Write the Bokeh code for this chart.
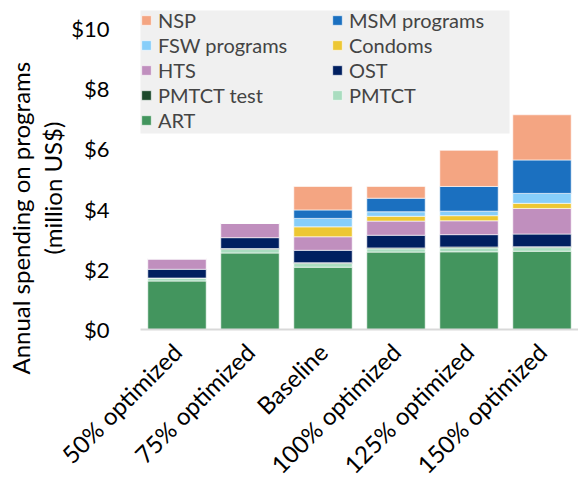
from bokeh.plotting import figure
from bokeh.models import ColumnDataSource, Legend, LegendItem, CustomJSTickFormatter, Title, BoxAnnotation
from bokeh.embed import file_html
from bokeh.resources import INLINE
import math

scenarios = ["50% optimized", "75% optimized", "Baseline", "100% optimized", "125% optimized", "150% optimized"]
programs = ["ART", "PMTCT", "PMTCT test", "OST", "HTS", "Condoms", "FSW programs", "MSM programs", "NSP"]
colors = ["#43955E", "#A9DDBF", "#1D4A2C", "#001F60", "#C08FBE", "#EDC732", "#87CEFA", "#1B70C0", "#F4A582"]

art = [1.61, 2.54, 2.07, 2.57, 2.58, 2.60]
pmtct = [0.10, 0.12, 0.12, 0.11, 0.13, 0.12]
pmtct_test = [0.0, 0.03, 0.03, 0.03, 0.03, 0.03]
ost = [0.29, 0.36, 0.41, 0.42, 0.41, 0.42]
hts = [0.35, 0.48, 0.45, 0.47, 0.46, 0.85]
condoms = [0.0, 0.0, 0.33, 0.16, 0.17, 0.17]
fsw = [0.0, 0.0, 0.28, 0.15, 0.15, 0.33]
msm = [0.0, 0.0, 0.28, 0.45, 0.82, 1.11]
nsp = [0.0, 0.0, 0.78, 0.39, 1.20, 1.50]

series = [art, pmtct, pmtct_test, ost, hts, condoms, fsw, msm, nsp]
y_ticks = [0, 2, 4, 6, 8, 10]
y_title_lines = ["Annual spending on programs", "(million US$)"]

data = {"scenario": scenarios}
for name, vals in zip(programs, series):
    data[name] = vals
source = ColumnDataSource(data)

FONT = "Lato"
p = figure(x_range=scenarios, y_range=(0, 10.66), width=578, height=491,
           output_backend="svg", toolbar_location=None,
           min_border_left=140, min_border_right=0, min_border_top=8, min_border_bottom=150)
renderers = p.vbar_stack(programs, x="scenario", width=0.8, color=colors, source=source,
                         line_color="white", line_width=0.6)

p.xgrid.visible = False
p.ygrid.visible = False
p.outline_line_color = None
p.background_fill_color = "white"

p.yaxis.ticker = y_ticks
p.yaxis.formatter = CustomJSTickFormatter(code="return '$' + tick;")
p.yaxis.axis_line_color = None
p.yaxis.major_tick_line_color = None
p.yaxis.minor_tick_line_color = None
p.yaxis.major_label_text_font = FONT
p.yaxis.major_label_text_font_size = "22px"
p.yaxis.major_label_text_color = "black"
p.yaxis.major_label_standoff = 25

# y-axis title: two lines, each placed as in the reference (inner line first)
p.add_layout(Title(text=y_title_lines[1], align="left", offset=75, standoff=3,
                   text_font=FONT, text_font_size="24px", text_font_style="normal",
                   text_color="black"), "left")
p.add_layout(Title(text=y_title_lines[0], align="left", offset=-45, standoff=0,
                   text_font=FONT, text_font_size="24px", text_font_style="normal",
                   text_color="black"), "left")

p.xaxis.axis_line_color = "#D9D9D9"
p.xaxis.axis_line_width = 2
p.xaxis.major_tick_line_color = None
p.xaxis.minor_tick_line_color = None
p.xaxis.major_label_orientation = math.pi / 4
p.xaxis.major_label_text_font = FONT
p.xaxis.major_label_text_font_size = "24px"
p.xaxis.major_label_text_color = "black"
p.xaxis.major_label_standoff = 12

# legend background box
p.add_layout(BoxAnnotation(left=123, right=509, top=10, bottom=133,
                           left_units="canvas", right_units="canvas",
                           top_units="canvas", bottom_units="canvas",
                           fill_color="#F0F0F0", fill_alpha=1.0, line_color=None))

# legend, row-wise order: NSP, MSM / FSW, Condoms / HTS, OST / PMTCT test, PMTCT / ART
col1 = ["NSP", "FSW programs", "HTS", "PMTCT test", "ART"]
col2 = ["MSM programs", "Condoms", "OST", "PMTCT"]
items = [LegendItem(label=n, renderers=[renderers[programs.index(n)]]) for n in col1 + col2]
legend = Legend(items=items, ncols=2, location="top_left",
                background_fill_alpha=0.0, border_line_color=None,
                label_text_font=FONT, label_text_font_size="20px",
                glyph_width=12, glyph_height=12, label_height=24, label_width=172,
                spacing=1, padding=5, margin=0, label_standoff=6)
p.add_layout(legend)

open("out.html", "w").write(file_html(p, INLINE))
